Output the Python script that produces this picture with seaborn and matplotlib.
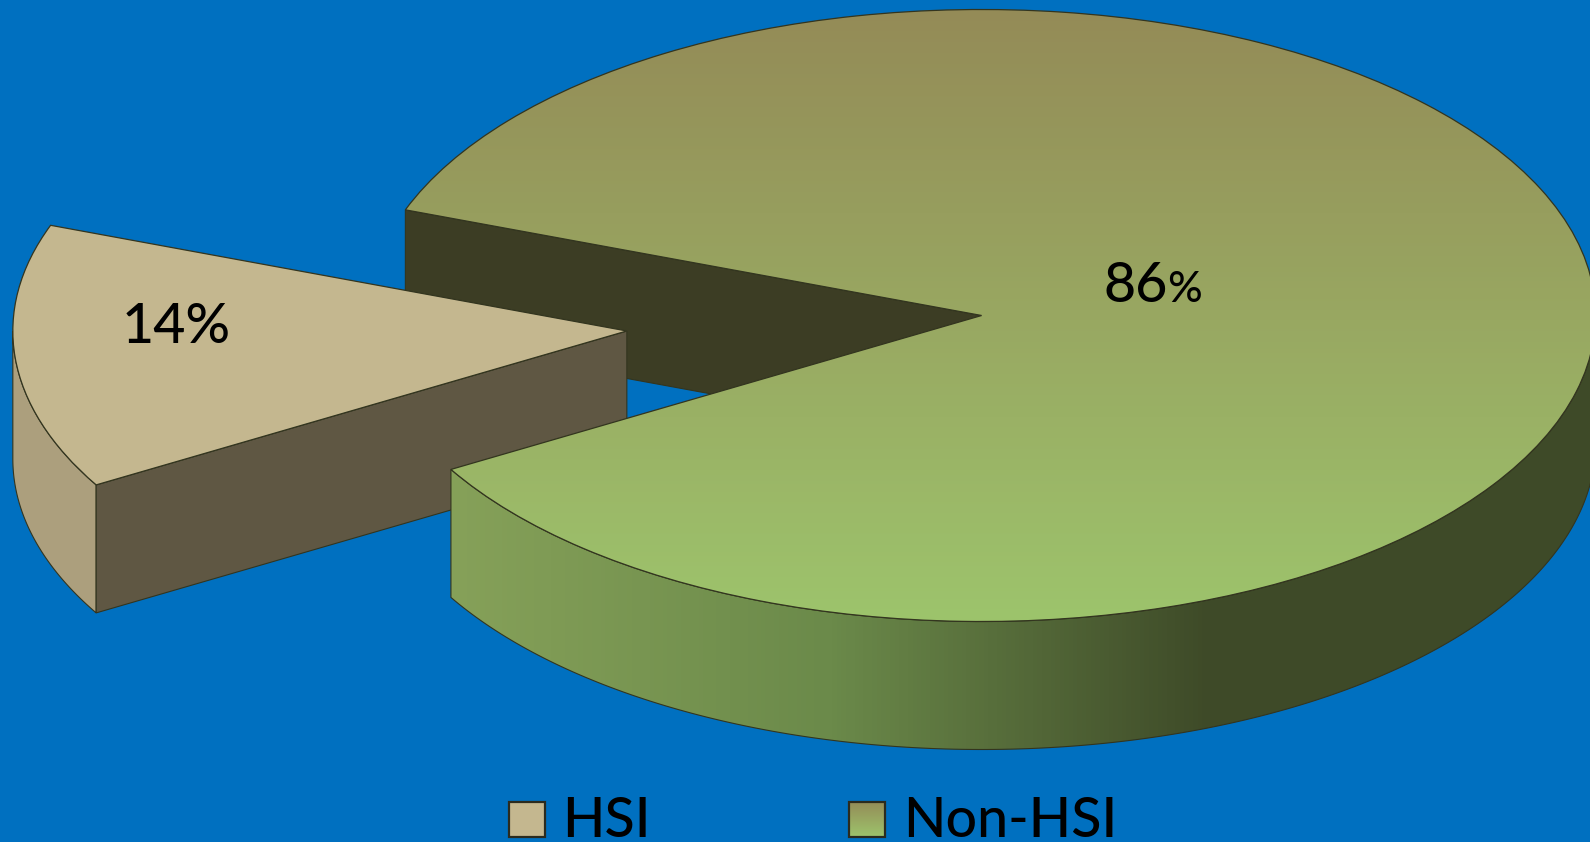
import numpy as np
import matplotlib
matplotlib.use("Agg")
import matplotlib.pyplot as plt
from matplotlib.colors import LinearSegmentedColormap
from matplotlib.patches import Polygon, Rectangle
import seaborn as sns

# Data
categories = ["HSI", "Non-HSI"]
shares = [14, 86]

W, H = 1590, 842
BG = "#0070C0"
EDGE = "#33351f"
RX, RY = 614, 306          # pie radius in pixels
CX, CY = 981.6, 315.5      # pie centre in pixels
DEPTH = 128 / RY           # thickness of the pie
START = 159.8
EXPLODE = 0.58

sns.set_theme(style="white", rc={"figure.facecolor": BG, "axes.facecolor": BG})
plt.rcParams["font.family"] = ["Lato", "DejaVu Sans"]


def to_x(px):
    return (px - CX) / RX


def to_y(py):
    return (CY - py) / RY


def arc(wedge, t1, t2):
    t = np.radians(np.linspace(t1, t2, 200))
    return wedge.center[0] + wedge.r * np.cos(t), wedge.center[1] + wedge.r * np.sin(t)


def outer_wall(wedge):
    x, y = arc(wedge, max(wedge.theta1, 180), min(wedge.theta2, 360))
    pts = np.r_[np.c_[x, y], np.c_[x, y - DEPTH][::-1]]
    return pts


def cut_wall(wedge, theta):
    cx, cy = wedge.center
    ex, ey = arc(wedge, theta, theta)
    ex, ey = ex[0], ey[0]
    return [(cx, cy), (ex, ey), (ex, ey - DEPTH), (cx, cy - DEPTH)]


def gradient(ax, colors, extent, clip, zorder, horizontal=False):
    cmap = LinearSegmentedColormap.from_list("g", colors)
    g = np.linspace(0, 1, 256)
    g = g.reshape(1, -1) if horizontal else g.reshape(-1, 1)
    im = ax.imshow(g, cmap=cmap, extent=extent, origin="upper", aspect="auto", zorder=zorder)
    im.set_clip_path(clip)
    return im


fig = plt.figure(figsize=(W / 100, H / 100), dpi=100)
ax = fig.add_axes([0, 0, 1, 1])

wedges, _ = ax.pie(shares, explode=[EXPLODE, 0], startangle=START, counterclock=True,
                   wedgeprops={"linewidth": 0.9, "edgecolor": EDGE, "facecolor": "none"})
hsi, non = wedges

# back wall of the big slice
ax.add_patch(Polygon(cut_wall(non, non.theta2), fc="#3C3D24", ec=EDGE, lw=0.8, zorder=1))

# exploded slice
ax.add_patch(Polygon(outer_wall(hsi), fc="#AC9F7D", ec=EDGE, lw=0.8, zorder=2))
ax.add_patch(Polygon(cut_wall(hsi, hsi.theta2), fc="#5F5743", ec=EDGE, lw=0.8, zorder=2))
hsi.set_facecolor("#C4B78F")
hsi.set_zorder(3)

# big slice, front wall and gradient top
wall = Polygon(outer_wall(non), fc="none", ec=EDGE, lw=0.8, zorder=5)
ax.add_patch(wall)
gradient(ax, ["#86A159", "#6B8A4A", "#3E4A28", "#3E4A28"],
         [to_x(449), to_x(1590), to_y(842), to_y(0)], wall, 4, horizontal=True)
gradient(ax, ["#948B57", "#9DC46C"], [-1, 1, -1, 1], non, 6)
non.set_zorder(7)

# value labels
ax.text(to_x(122), to_y(343), f"{shares[0]}%", fontsize=40, color="black", zorder=8,
        va="baseline", fontweight="medium")
ax.text(to_x(1103), to_y(302), f"{shares[1]}", fontsize=40, color="black", zorder=8,
        va="baseline", fontweight="medium")
ax.text(to_x(1167), to_y(302), "%", fontsize=31, color="black", zorder=8,
        va="baseline", fontweight="medium")

# legend
hsi_box = Rectangle((to_x(509), to_y(837)), 36 / RX, 35 / RY, fc="#C4B78F", ec="#2b2b1e", lw=1.6, zorder=8)
ax.add_patch(hsi_box)
non_box = Rectangle((to_x(849), to_y(837)), 36 / RX, 35 / RY, fc="none", ec="#2b2b1e", lw=1.6, zorder=9)
ax.add_patch(non_box)
gradient(ax, ["#948B57", "#9DC46C"], [to_x(849), to_x(885), to_y(837), to_y(802)], non_box, 8)
ax.text(to_x(562), to_y(837), categories[0], fontsize=40, color="black", zorder=8,
        va="baseline", fontweight="medium")
ax.text(to_x(903), to_y(837), categories[1], fontsize=40, color="black", zorder=8,
        va="baseline", fontweight="medium")

ax.set_aspect("auto")
ax.set_xlim(to_x(0), to_x(W))
ax.set_ylim(to_y(H), to_y(0))
ax.axis("off")

fig.savefig("out.png", dpi=100, facecolor=BG)
